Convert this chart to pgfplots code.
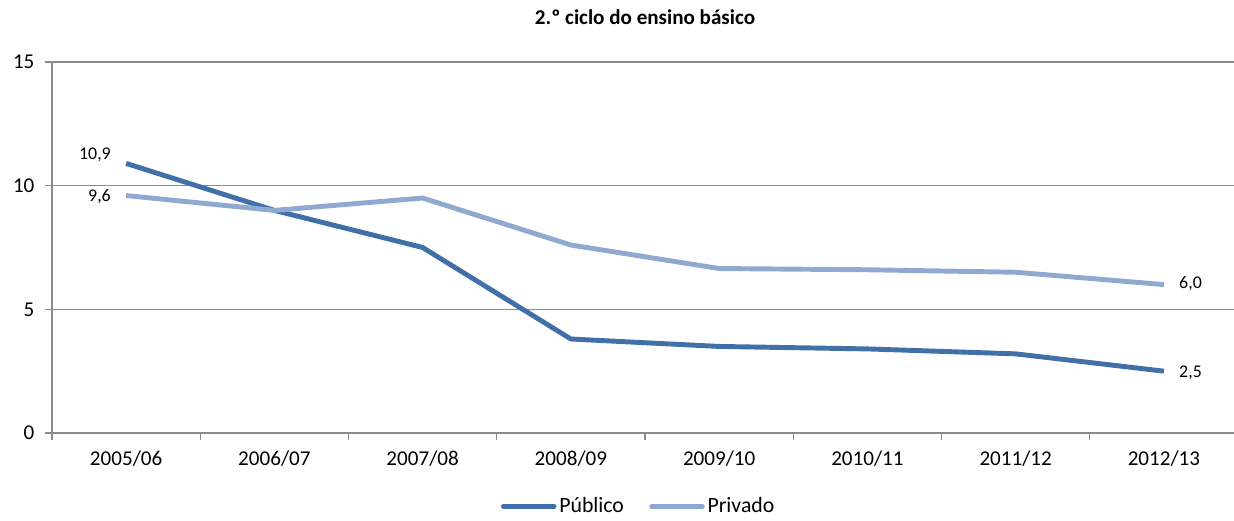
\documentclass[border=0pt]{standalone}
\usepackage{pgfplots}
\pgfplotsset{compat=1.18}
\usepackage{fontspec}
\setmainfont{Carlito}
\definecolor{publico}{HTML}{4170A8}
\definecolor{privado}{HTML}{8FA9D0}
\definecolor{gridgray}{HTML}{8C8C8C}
\begin{document}
\begin{tikzpicture}[x=0.25mm,y=0.25mm]
\begin{axis}[
    at={(0,0)}, anchor=south west,
    scale only axis,
    width=296.5mm, height=92.75mm,
    xmin=-0.5, xmax=7.5,
    ymin=0, ymax=15,
    axis x line*=bottom,
    axis y line*=left,
    axis line style={gridgray, line width=0.8pt},
    xtick={0,...,7},
    xticklabels={2005/06,2006/07,2007/08,2008/09,2009/10,2010/11,2011/12,2012/13},
    minor xtick={-0.5,0.5,...,7.5},
    major x tick style={draw=none},
    minor tick length=5pt,
    major tick length=5pt,
    tick align=outside,
    tick style={gridgray, line width=0.8pt},
    ytick={0,5,10,15},
    ymajorgrids,
    grid style={gridgray, line width=0.8pt},
    tick label style={font=\fontsize{15}{18}\selectfont},
    /pgf/number format/assume math mode=true,
    xticklabel style={yshift=-4pt},
    yticklabel style={xshift=-4pt},
    title={\bfseries 2.º ciclo do ensino básico},
    title style={font=\fontsize{15}{18}\selectfont, at={(0.5,1)}, anchor=center, yshift=26pt},
    legend style={at={(0.495,-0.198)}, anchor=center, draw=none, legend columns=2,
        inner sep=1pt, font=\fontsize{15.5}{18}\selectfont,
        /tikz/every even column/.append style={column sep=16pt}},
    legend image code/.code={\draw[#1, line width=3.5pt, line cap=round] (0pt,0pt) -- (36pt,0pt);},
    clip=false,
]
\addplot[publico, line width=3.5pt, line join=round] coordinates {
    (0,10.9) (1,9.0) (2,7.5) (3,3.8) (4,3.5) (5,3.4) (6,3.2) (7,2.5)
};
\addlegendentry{Público}
\addplot[privado, line width=3.5pt, line join=round] coordinates {
    (0,9.6) (1,9.0) (2,9.5) (3,7.6) (4,6.65) (5,6.6) (6,6.5) (7,6.0)
};
\addlegendentry{Privado}
\node[left, font=\fontsize{12.7}{15}\selectfont] at (axis cs:-0.07,11.24) {10,9};
\node[left, font=\fontsize{12.7}{15}\selectfont] at (axis cs:-0.07,9.54) {9,6};
\node[right, font=\fontsize{12.7}{15}\selectfont] at (axis cs:7.07,6.02) {6,0};
\node[right, font=\fontsize{12.7}{15}\selectfont] at (axis cs:7.07,2.43) {2,5};
\end{axis}
\pgfresetboundingbox
\path (-52,-87) rectangle (1182,433);
\end{tikzpicture}
\end{document}
